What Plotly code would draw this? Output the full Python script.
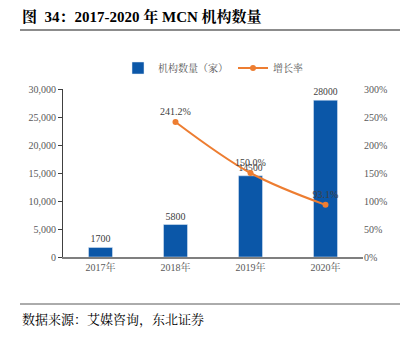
import plotly.graph_objects as go

categories = ["2017年", "2018年", "2019年", "2020年"]
counts = [1700, 5800, 14500, 28000]
growth_x = ["2018年", "2019年", "2020年"]
growth = [241.2, 150.0, 93.1]
growth_labels = ["241.2%", "150.0%", "93.1%"]

W, H = 413, 337
L, R, T, B = 63, 50, 89, 80
pw, ph = W - L - R, H - T - B

def px(x):
    return (x - L) / pw

def py(y):
    return (H - B - y) / ph

serif = "Liberation Serif, Noto Serif CJK SC, Noto Sans CJK SC, serif"

fig = go.Figure()
fig.add_trace(go.Bar(
    x=categories, y=counts, name="机构数量（家）",
    marker=dict(color="#0B57A8"), width=0.32,
    text=[str(v) for v in counts], textposition="outside",
    textfont=dict(family=serif, size=10, color="#404040"),
    cliponaxis=False,
))
fig.add_trace(go.Scatter(
    x=growth_x, y=growth, name="增长率", yaxis="y2",
    mode="lines+markers+text", line=dict(color="#ED7D31", width=2, shape="spline"),
    marker=dict(size=6, color="#ED7D31"),
    text=growth_labels, textposition="top center",
    textfont=dict(family=serif, size=10, color="#404040"),
    cliponaxis=False,
))

fig.update_layout(
    width=W, height=H, margin=dict(l=L, r=R, t=T, b=B),
    plot_bgcolor="white", paper_bgcolor="white",
    font=dict(family=serif, size=10, color="#595959"),
    showlegend=True,
    legend=dict(orientation="h", x=0.5, xanchor="center", y=py(68), yanchor="middle",
                font=dict(family=serif, size=10, color="#595959"),
                itemwidth=30, tracegroupgap=0),
    bargap=0.68,
    xaxis=dict(showline=True, linecolor="#7F7F7F", linewidth=1.5, ticks="",
               tickfont=dict(size=10, color="#595959"), fixedrange=True),
    yaxis=dict(range=[0, 30000], dtick=5000, tickformat=",", showgrid=False,
               showline=True, linecolor="#404040", linewidth=1, ticks="outside",
               ticklen=4, tickcolor="#404040", zeroline=False,
               tickfont=dict(size=10, color="#595959")),
    yaxis2=dict(range=[0, 300], dtick=50, ticksuffix="%", overlaying="y", side="right",
                showgrid=False, showline=False, zeroline=False,
                tickfont=dict(size=10, color="#595959")),
)

fig.add_annotation(text="<b>图  34：2017-2020 年 MCN 机构数量</b>", xref="paper", yref="paper",
                   x=px(20), y=py(16), xanchor="left", yanchor="middle", showarrow=False,
                   font=dict(family=serif, size=15, color="#000000"))
fig.add_annotation(text="数据来源：艾媒咨询，东北证券", xref="paper", yref="paper",
                   x=px(20), y=py(320), xanchor="left", yanchor="middle", showarrow=False,
                   font=dict(family=serif, size=13, color="#000000"))
fig.add_shape(type="line", xref="paper", yref="paper", x0=px(20), x1=px(400), y0=py(30), y1=py(30),
              line=dict(color="#8C8C8C", width=2))
fig.add_shape(type="line", xref="paper", yref="paper", x0=px(20), x1=px(400), y0=py(304), y1=py(304),
              line=dict(color="#595959", width=1))

fig.write_html("out.html")
